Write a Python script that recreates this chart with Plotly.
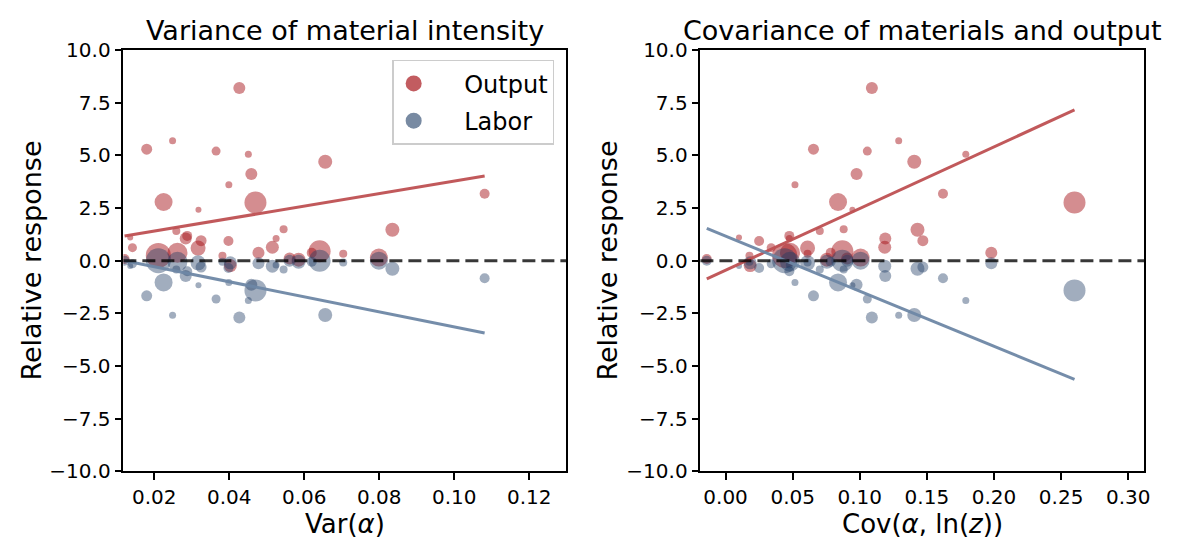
import plotly.graph_objects as go

# ---- data (one entry per industry) ----
var_alpha = [0.0427, 0.0180, 0.0249, 0.0365, 0.0656, 0.0451, 0.0459, 0.0399, 0.0225, 0.0470,
             0.0318, 0.1081, 0.0835, 0.0478, 0.0515, 0.0284, 0.0325, 0.0259, 0.0545, 0.0136,
             0.0142, 0.0398, 0.0525, 0.0211, 0.0262, 0.0641, 0.0799, 0.0704, 0.0620, 0.0585,
             0.0561, 0.0403, 0.0121, 0.0382, 0.0317, 0.0288]
cov_alpha_lnz = [0.109, 0.0655, 0.129, 0.1056, 0.1406, 0.179, 0.0976, 0.0517, 0.0838, 0.260,
                 0.0945, 0.162, 0.143, 0.198, 0.1186, 0.119, 0.147, 0.0702, 0.088, 0.010,
                 0.034, 0.025, 0.0475, 0.044, 0.048, 0.087, 0.1006, 0.0611, 0.0783, 0.0755,
                 0.0906, 0.0183, -0.0140, 0.0178, 0.0611, 0.0475]
output_resp = [8.21, 5.30, 5.70, 5.21, 4.70, 5.06, 4.12, 3.61, 2.79, 2.77,
               2.42, 3.18, 1.47, 0.38, 0.64, 1.06, 0.95, 1.41, 1.50, 1.10,
               0.62, 0.94, 1.05, 0.25, 0.38, 0.45, 0.15, 0.33, 0.38, 0.05,
               0.10, -0.23, 0.08, 0.23, 0.60, 1.18]
labor_resp = [-2.70, -1.67, -2.59, -1.82, -2.58, -1.89, -1.14, -1.03, -1.03, -1.41,
              -1.17, -0.83, -0.38, -0.12, -0.26, -0.73, -0.30, -0.42, -0.42, -0.25,
              -0.15, -0.35, -0.20, 0.00, -0.05, 0.00, 0.00, -0.09, -0.05, -0.05,
              0.00, -0.10, 0.00, -0.05, -0.10, -0.50]
weight_size = [12, 11, 7, 9, 14, 7, 12, 7, 18, 22,
               6, 10, 14, 12, 13, 12, 11, 8, 8, 6,
               9, 10, 7, 25, 20, 22, 18, 8, 10, 14,
               12, 13, 10, 8, 15, 10]

# fitted lines: [intercept, slope]
fit_var_output = [0.814, 29.7]
fit_var_labor = [0.428, -35.7]
fit_cov_output = [-0.45, 29.3]
fit_cov_labor = [1.17, -26.2]

y_ticks = [-10, -7.5, -5, -2.5, 0, 2.5, 5, 7.5, 10]
x1_ticks = [0.02, 0.04, 0.06, 0.08, 0.10, 0.12]
x2_ticks = [0.00, 0.05, 0.10, 0.15, 0.20, 0.25, 0.30]

W, H = 1177, 553
RED = "rgba(165,15,21,0.68)"
BLUE = "rgba(30,60,100,0.6)"
RED_LINE = "rgba(190,80,82,0.95)"
BLUE_LINE = "rgba(110,135,165,0.95)"
FONT = "DejaVu Sans"

TOP, BOT = 40, 480
LEFT = [124 / W, 569.3 / W]
RIGHT = [704 / W, 1150.3 / W]
YD = [1 - BOT / H, 1 - TOP / H]

fig = go.Figure()

panels = [
    ("x", "y", var_alpha, fit_var_output, fit_var_labor),
    ("x2", "y2", cov_alpha_lnz, fit_cov_output, fit_cov_labor),
]
for xa, ya, xs, fo, fl in panels:
    fig.add_trace(go.Scatter(x=xs, y=output_resp, mode="markers",
                             marker=dict(size=weight_size, color=RED, line=dict(width=0)),
                             xaxis=xa, yaxis=ya, showlegend=False, hoverinfo="skip"))
    fig.add_trace(go.Scatter(x=xs, y=labor_resp, mode="markers",
                             marker=dict(size=weight_size, color=BLUE, line=dict(width=0)),
                             xaxis=xa, yaxis=ya, showlegend=False, hoverinfo="skip"))
    x_ends = [min(xs), max(xs)]
    fig.add_trace(go.Scatter(x=x_ends, y=[fo[0] + fo[1] * v for v in x_ends], mode="lines",
                             line=dict(color=RED_LINE, width=3), xaxis=xa, yaxis=ya,
                             showlegend=False, hoverinfo="skip"))
    fig.add_trace(go.Scatter(x=x_ends, y=[fl[0] + fl[1] * v for v in x_ends], mode="lines",
                             line=dict(color=BLUE_LINE, width=3), xaxis=xa, yaxis=ya,
                             showlegend=False, hoverinfo="skip"))

# legend entries
fig.add_trace(go.Scatter(x=[None], y=[None], mode="markers", name="    Output",
                         marker=dict(size=16, color=RED, line=dict(width=0)),
                         legendgroup="a", xaxis="x", yaxis="y"))
fig.add_trace(go.Scatter(x=[None], y=[None], mode="markers", name="    Labor",
                         marker=dict(size=16, color=BLUE, line=dict(width=0)),
                         legendgroup="b", xaxis="x", yaxis="y"))

# dashed zero lines
for xr, yr in [("x domain", "y"), ("x2 domain", "y2")]:
    fig.add_shape(type="line", xref=xr, yref=yr, x0=0, x1=1, y0=0, y1=0,
                  line=dict(color="rgba(0,0,0,0.78)", width=3, dash="13px,6px"), layer="above")

axis_common = dict(showline=True, linecolor="black", linewidth=1.5, mirror=True,
                   ticks="outside", ticklen=7, tickwidth=1.5, tickcolor="black",
                   showgrid=False, zeroline=False, tickfont=dict(size=20, color="black", family=FONT))

fig.update_layout(
    width=W, height=H, autosize=False,
    margin=dict(l=0, r=0, t=0, b=0),
    paper_bgcolor="white", plot_bgcolor="white",
    font=dict(family=FONT, color="black"),
    xaxis=dict(domain=LEFT, range=[0.01178, 0.1299], tickvals=x1_ticks, tickformat=".2f",
               anchor="y", **axis_common),
    yaxis=dict(domain=YD, range=[-10, 10], tickvals=y_ticks, tickformat=".1f",
               anchor="x", **axis_common),
    xaxis2=dict(domain=RIGHT, range=[-0.01875, 0.3121], tickvals=x2_ticks, tickformat=".2f",
                anchor="y2", **axis_common),
    yaxis2=dict(domain=YD, range=[-10, 10], tickvals=y_ticks, tickformat=".1f",
                anchor="x2", **axis_common),
    legend=dict(x=557 / W, xanchor="right", y=1 - 50 / H, yanchor="top",
                bgcolor="white", bordercolor="#cccccc", borderwidth=1.5,
                font=dict(size=24, family=FONT), traceorder="grouped", tracegroupgap=3),
    showlegend=True,
)

ann = [
    dict(text="Variance of material intensity", x=(LEFT[0] + LEFT[1]) / 2, y=1 - 19 / H,
         font=dict(size=27)),
    dict(text="Covariance of materials and output", x=(RIGHT[0] + RIGHT[1]) / 2, y=1 - 19 / H,
         font=dict(size=27)),
    dict(text="Var(<i>α</i>)", x=(LEFT[0] + LEFT[1]) / 2, y=1 - 535 / H, font=dict(size=26)),
    dict(text="Cov(<i>α</i>, ln(<i>z</i>))", x=(RIGHT[0] + RIGHT[1]) / 2, y=1 - 535 / H,
         font=dict(size=26)),
    dict(text="Relative response", x=32 / W, y=1 - 260 / H, textangle=-90, font=dict(size=27)),
    dict(text="Relative response", x=611 / W, y=1 - 260 / H, textangle=-90, font=dict(size=27)),
]
for a in ann:
    fig.add_annotation(xref="paper", yref="paper", showarrow=False, xanchor="center",
                       yanchor="middle", **a)

fig.write_html("out.html")
